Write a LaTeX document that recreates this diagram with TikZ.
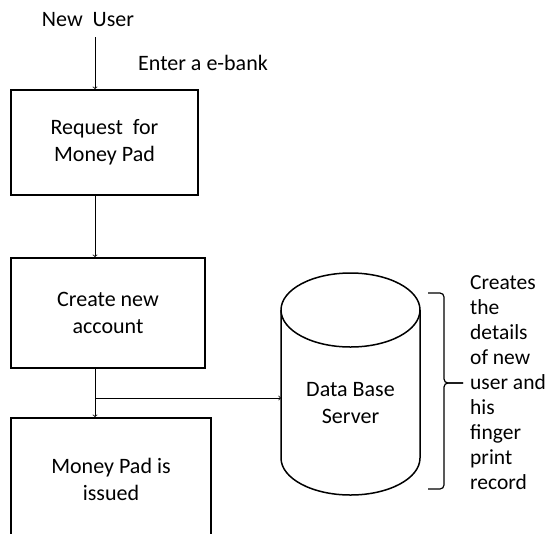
\documentclass[tikz,border=0pt]{standalone}
\usepackage{fontspec}
\setmainfont{Carlito}
\usepackage{tikz}
\usetikzlibrary{arrows}

\begin{document}
\begin{tikzpicture}[x=1pt,y=-1pt,>={to[scale=1.4]},
	box/.style={draw,line width=1.8pt,align=center,inner sep=0pt},
	txt/.style={font=\fontsize{22}{27}\selectfont,align=center},
	link/.style={->,line width=0.8pt}]
					\useasboundingbox (0,0) rectangle (545,533);
					\clip (0,0) rectangle (545,533);
					
					\node[txt] (user) at (88,20) {New\ \ User};
					\node[txt] (bank) at (203,63) {Enter a e-bank};
					
					\node[box,txt,minimum width=187pt,minimum height=105pt] (req) at (104.5,142.5) {Request\ \ for\\Money Pad};
					\node[box,txt,minimum width=194pt,minimum height=110pt] (acc) at (108,313) {Create new\\account};
					\node[box,txt,minimum width=200pt,minimum height=123pt] (iss) at (111,479.5) {Money Pad is\\issued};
					
					% data base cylinder
					\draw[line width=1.5pt] (350.5,310) ellipse (69.5 and 37);
					\draw[line width=1.5pt] (281,310) -- (281,458) arc (180:0:69.5 and 37) -- (420,310);
					\node[txt] (db) at (350.5,403.5) {Data Base\\Server};
					
					\coordinate (top) at (95,37);
					\coordinate (split) at (95,398);
					\coordinate (dbin) at (281,398);
					
					\draw[link] (top) -- (top |- req.north);
					\draw[link] ([xshift=-9.5pt]req.south) -- ([xshift=-13pt]acc.north);
					\draw[line width=0.8pt] ([xshift=-13pt]acc.south) -- (split);
					\draw[link] (split) -- ([xshift=-16pt]iss.north);
					\draw[link] (split) -- (dbin);
					
					% brace
					\draw[line width=1.2pt,rounded corners=4pt] (428,293) -- (444,293) -- (444,383) -- (463,383);
					\draw[line width=1.2pt,rounded corners=4pt] (463,383) -- (444,383) -- (444,489) -- (428,489);
					\node[font=\fontsize{21.5}{25}\selectfont,align=left,anchor=west,inner sep=0pt] (note) at (470,383) {Creates\\the\\details\\of new\\user and\\his\\finger\\print\\record};
				\end{tikzpicture}
\end{document}
